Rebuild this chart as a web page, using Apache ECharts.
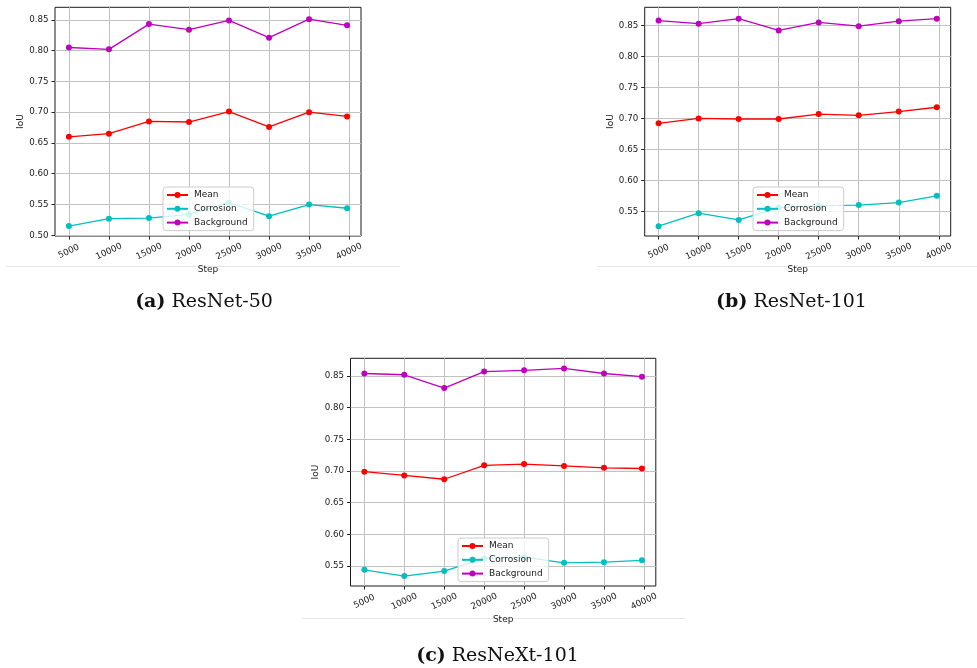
<!DOCTYPE html>
<html>
<head>
<meta charset="utf-8">
<script src="https://cdn.jsdelivr.net/npm/echarts@6/dist/echarts.min.js"></script>
<style>
  html, body { margin: 0; padding: 0; background: #fff; }
  #chart { width: 977px; height: 668px; }
</style>
</head>
<body>
<div id="chart"></div>
<script>
// Training steps at which IoU was evaluated
const steps = [5000, 10000, 15000, 20000, 25000, 30000, 35000, 39750];
const stepTicks = [5000, 10000, 15000, 20000, 25000, 30000, 35000, 40000];
const seriesNames = ['Mean', 'Corrosion', 'Background'];
const panelTags = ['(a)', '(b)', '(c)'];
const modelNames = ['ResNet-50', 'ResNet-101', 'ResNeXt-101'];

// ResNet-50
const r50Mean       = [0.660, 0.665, 0.685, 0.684, 0.701, 0.676, 0.700, 0.693];
const r50Corrosion  = [0.515, 0.527, 0.528, 0.534, 0.553, 0.531, 0.550, 0.544];
const r50Background = [0.805, 0.802, 0.843, 0.834, 0.849, 0.821, 0.851, 0.841];

// ResNet-101
const r101Mean       = [0.692, 0.700, 0.699, 0.699, 0.707, 0.705, 0.711, 0.718];
const r101Corrosion  = [0.526, 0.547, 0.536, 0.556, 0.559, 0.560, 0.564, 0.575];
const r101Background = [0.858, 0.853, 0.861, 0.842, 0.855, 0.849, 0.857, 0.861];

// ResNeXt-101
const x101Mean       = [0.699, 0.693, 0.687, 0.709, 0.711, 0.708, 0.705, 0.704];
const x101Corrosion  = [0.544, 0.534, 0.542, 0.562, 0.564, 0.555, 0.556, 0.559];
const x101Background = [0.854, 0.852, 0.831, 0.857, 0.859, 0.862, 0.854, 0.849];

// IoU tick labels per panel
const iouTicksR50  = [0.50, 0.55, 0.60, 0.65, 0.70, 0.75, 0.80, 0.85];
const iouTicksR101 = [0.55, 0.60, 0.65, 0.70, 0.75, 0.80, 0.85];
const iouTicksX101 = [0.55, 0.60, 0.65, 0.70, 0.75, 0.80, 0.85];

const colors = ['#ff0000', '#00bfbf', '#bf00bf'];
const sansFont = 'DejaVu Sans';
const serifFont = 'DejaVu Serif';
const inkColor = '#222222';

const panels = [
  {
    values: [r50Mean, r50Corrosion, r50Background], ticks: iouTicksR50,
    yMin: 0.4989, yMax: 0.8703,
    grid: { left: 55, top: 7.3, width: 306, height: 228.7 },
    legend: { left: 163, top: 187 },
    rule: { x1: 6, x2: 400, y: 266.5 },
    caption: { x: 204, y: 302.5 }
  },
  {
    values: [r101Mean, r101Corrosion, r101Background], ticks: iouTicksR101,
    yMin: 0.5101, yMax: 0.8794,
    grid: { left: 644.7, top: 7.3, width: 306, height: 228.7 },
    legend: { left: 753, top: 187 },
    rule: { x1: 597, x2: 977, y: 266.5 },
    caption: { x: 791.5, y: 302.5 }
  },
  {
    values: [x101Mean, x101Corrosion, x101Background], ticks: iouTicksX101,
    yMin: 0.5184, yMax: 0.8780,
    grid: { left: 350.5, top: 358.3, width: 305.3, height: 227.7 },
    legend: { left: 458, top: 538 },
    rule: { x1: 302, x2: 685, y: 618.5 },
    caption: { x: 497.5, y: 656.5 }
  }
];

// matplotlib-style 5% padding around the step range
const stepPad = 0.05 * (steps[steps.length - 1] - steps[0]);
const xMin = steps[0] - stepPad;
const xMax = steps[steps.length - 1] + stepPad;

const grids = [], xAxes = [], yAxes = [], legends = [], series = [], graphics = [];

panels.forEach((p, i) => {
  grids.push(Object.assign({
    show: true, borderColor: '#1a1a1a', borderWidth: 1,
    backgroundColor: 'transparent', containLabel: false, outerBoundsMode: 'none'
  }, p.grid));

  xAxes.push({
    type: 'value', gridIndex: i, min: xMin, max: xMax,
    minInterval: 5000, maxInterval: 5000,
    name: 'Step', nameLocation: 'middle', nameGap: 29,
    nameTextStyle: { fontFamily: sansFont, fontSize: 9, color: inkColor },
    axisLine: { show: false },
    axisTick: { show: true, inside: false, length: 3.5, lineStyle: { color: inkColor, width: 1 }, customValues: stepTicks },
    axisLabel: {
      show: true, rotate: 25, align: 'center', verticalAlign: 'middle', margin: 15.5,
      fontFamily: sansFont, fontSize: 8.7, color: inkColor,
      showMinLabel: true, showMaxLabel: true, hideOverlap: false,
      customValues: stepTicks,
      formatter: v => {
        const r = Math.round(v);
        return stepTicks.indexOf(r) >= 0 ? String(r) : '';
      }
    },
    splitLine: { show: true, lineStyle: { color: '#c2c2c2', width: 1 } }
  });

  const ticks = p.ticks;
  yAxes.push({
    type: 'value', gridIndex: i, min: p.yMin, max: p.yMax,
    minInterval: 0.05, maxInterval: 0.05,
    name: 'IoU', nameLocation: 'middle', nameGap: 30,
    nameTextStyle: { fontFamily: sansFont, fontSize: 9, color: inkColor },
    axisLine: { show: false },
    axisTick: { show: true, inside: false, length: 3.5, lineStyle: { color: inkColor, width: 1 }, customValues: ticks },
    axisLabel: {
      show: true, margin: 6.5, fontFamily: sansFont, fontSize: 8.7, color: inkColor,
      showMinLabel: true, showMaxLabel: true, hideOverlap: false,
      customValues: ticks,
      formatter: v => {
        const t = ticks.find(t => Math.abs(t - v) < 1e-6);
        return t !== undefined ? t.toFixed(2) : '';
      }
    },
    splitLine: { show: true, lineStyle: { color: '#c2c2c2', width: 1 } }
  });

  legends.push({
    data: seriesNames, orient: 'vertical',
    left: p.legend.left, top: p.legend.top,
    padding: [3, 6, 3, 3], itemGap: 3.8, itemWidth: 21, itemHeight: 7.5,
    backgroundColor: 'rgba(255,255,255,0.8)', borderColor: '#cccccc', borderWidth: 1, borderRadius: 3,
    selectedMode: false,
    textStyle: { fontFamily: sansFont, fontSize: 9, color: inkColor, lineHeight: 10, padding: [0, 0, 0, 1] },
    z: 10
  });

  p.values.forEach((vals, k) => {
    series.push({
      name: seriesNames[k], type: 'line', xAxisIndex: i, yAxisIndex: i,
      data: steps.map((s, j) => [s, vals[j]]),
      symbol: 'circle', symbolSize: 6, showSymbol: true,
      lineStyle: { color: colors[k], width: 1.3 },
      itemStyle: { color: colors[k] },
      emphasis: { disabled: true },
      z: 3
    });
  });

  graphics.push({
    type: 'line', silent: true, z: 0,
    shape: { x1: p.rule.x1, y1: p.rule.y, x2: p.rule.x2, y2: p.rule.y },
    style: { stroke: '#e6e6e6', lineWidth: 1 }
  });

  graphics.push({
    type: 'text', silent: true, z: 10,
    x: p.caption.x, y: p.caption.y,
    style: {
      text: '{tag|' + panelTags[i] + '} ' + modelNames[i],
      rich: { tag: { fontFamily: serifFont, fontWeight: 'bold', fontSize: 19, fill: '#111' } },
      fontFamily: serifFont, fontSize: 19, fill: '#111',
      align: 'center', verticalAlign: 'middle'
    }
  });
});

const chart = echarts.init(document.getElementById('chart'), null, { renderer: 'canvas' });
chart.setOption({
  animation: false,
  backgroundColor: '#ffffff',
  grid: grids,
  xAxis: xAxes,
  yAxis: yAxes,
  legend: legends,
  series: series,
  graphic: graphics
});
</script>
</body>
</html>
